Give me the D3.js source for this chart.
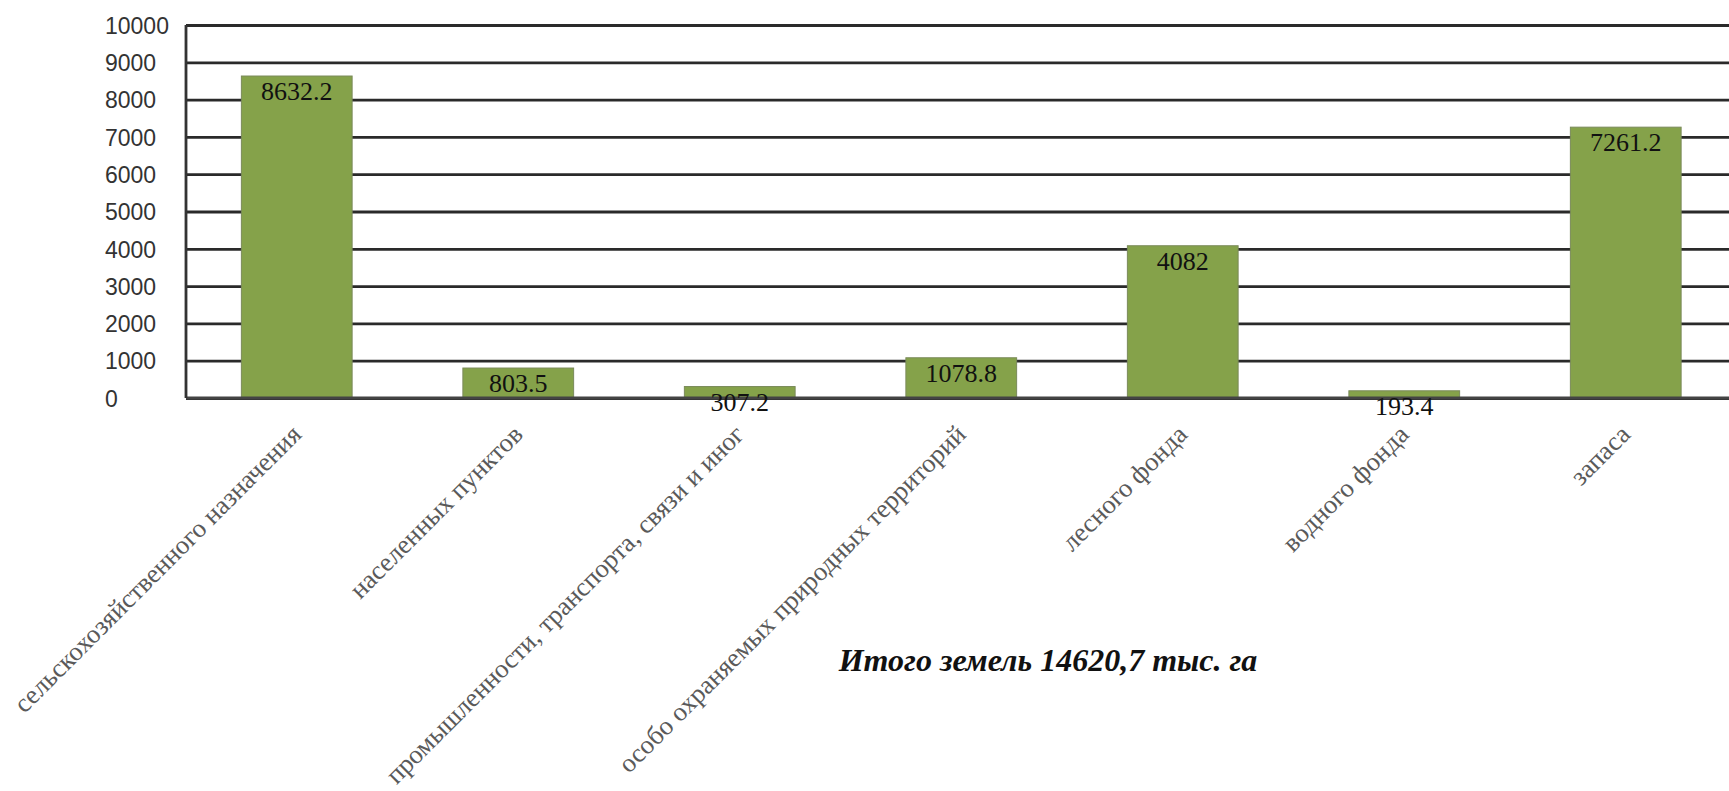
<!DOCTYPE html>
<html>
<head>
<meta charset="utf-8">
<script src="https://cdn.jsdelivr.net/npm/d3@7"></script>
<style>
    html, body { margin: 0; padding: 0; background: #fff; }
    svg { display: block; }
</style>
</head>
<body>
<div id="chart"></div>
<script>
// данные по категориям земель, тыс. га
const categories = [
    "сельскохозяйственного назначения",
    "населенных пунктов",
    "промышленности, транспорта, связи и иног",
    "особо охраняемых природных территорий",
    "лесного фонда",
    "водного фонда",
    "запаса"
];
const values = [8632.2, 803.5, 307.2, 1078.8, 4082, 193.4, 7261.2];
const valueLabels = ["8632.2", "803.5", "307.2", "1078.8", "4082", "193.4", "7261.2"];
const yTicks = [0, 1000, 2000, 3000, 4000, 5000, 6000, 7000, 8000, 9000, 10000];
const totalLabel = "Итого земель 14620,7 тыс. га";

const width = 1729;
const height = 791;
const margin = { top: 25, right: 0, bottom: 393, left: 186 };

const svg = d3.select("#chart")
    .append("svg")
    .attr("width", width)
    .attr("height", height);

const x = d3.scaleBand()
    .domain(categories)
    .range([margin.left, margin.left + 221.5 * 7])
    .paddingInner(0.5)
    .paddingOuter(0.25);

const y = d3.scaleLinear()
    .domain([0, 10000])
    .range([height - margin.bottom, margin.top]);

// сетка + подписи оси Y
const yAxis = svg.append("g")
    .attr("transform", `translate(${margin.left},0)`)
    .call(d3.axisLeft(y).tickValues(yTicks).tickFormat(d3.format("d"))
        .tickSize(-(width - margin.left)).tickPadding(0));

yAxis.select(".domain").remove();
yAxis.selectAll(".tick line")
    .attr("stroke", "#2a2a2a")
    .attr("stroke-width", 2.8);
yAxis.selectAll(".tick text")
    .attr("x", -81)
    .attr("text-anchor", "start")
    .attr("dy", "0.36em")
    .attr("fill", "#333")
    .style("font-family", "'Liberation Sans', Arial, sans-serif")
    .style("font-size", "23px");

// столбцы
svg.selectAll("rect.bar")
    .data(values)
    .enter()
    .append("rect")
    .attr("class", "bar")
    .attr("x", (d, i) => x(categories[i]))
    .attr("y", d => y(d))
    .attr("width", x.bandwidth())
    .attr("height", d => y(0) - y(d))
    .attr("fill", "#85a24a")
    .attr("stroke", "#7a8a5a")
    .attr("stroke-width", 1);

// оси
svg.append("line")
    .attr("x1", margin.left).attr("x2", width)
    .attr("y1", y(0)).attr("y2", y(0))
    .attr("stroke", "#444").attr("stroke-width", 2.8);
svg.append("line")
    .attr("x1", margin.left).attr("x2", margin.left)
    .attr("y1", y(10000)).attr("y2", y(0))
    .attr("stroke", "#333").attr("stroke-width", 2.8);

// подписи значений
svg.selectAll("text.value")
    .data(values)
    .enter()
    .append("text")
    .attr("class", "value")
    .attr("x", (d, i) => x(categories[i]) + x.bandwidth() / 2)
    .attr("y", d => y(d) + 15)
    .attr("dy", "0.35em")
    .attr("text-anchor", "middle")
    .attr("fill", "#111")
    .style("font-family", "'Liberation Serif', 'Times New Roman', serif")
    .style("font-size", "26px")
    .text((d, i) => valueLabels[i]);

// подписи категорий
svg.selectAll("text.cat")
    .data(categories)
    .enter()
    .append("text")
    .attr("class", "cat")
    .attr("transform", d => `translate(${x(d) + x.bandwidth() / 2 + 6},${y(0) + 38}) rotate(-45)`)
    .attr("text-anchor", "end")
    .attr("fill", "#5a5a5a")
    .style("font-family", "'Liberation Serif', 'Times New Roman', serif")
    .style("font-size", "26.5px")
    .text(d => d);

// итог
svg.append("text")
    .attr("x", 1048)
    .attr("y", 660)
    .attr("dy", "0.35em")
    .attr("text-anchor", "middle")
    .attr("fill", "#111")
    .style("font-family", "'Liberation Serif', 'Times New Roman', serif")
    .style("font-size", "32px")
    .style("font-weight", "bold")
    .style("font-style", "italic")
    .text(totalLabel);
</script>
</body>
</html>
